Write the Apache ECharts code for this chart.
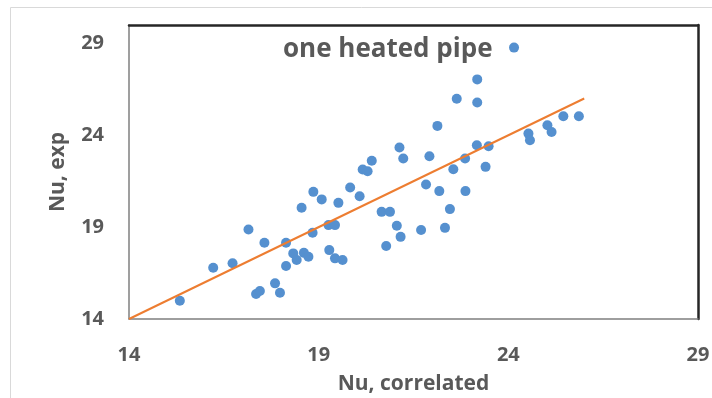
<!DOCTYPE html>
<html>
<head>
<meta charset="utf-8">
<script src="https://cdn.jsdelivr.net/npm/echarts@6/dist/echarts.min.js"></script>
<style>html,body{margin:0;padding:0;background:#fff}#c{width:712px;height:398px}</style>
</head>
<body>
<div id="c"></div>
<script>
const GRAY='#595959',BLUE='#5590cf',ORANGE='#ED7D31';
const F="'Open Sans',Arial,sans-serif";

// Nu correlated (x) vs Nu experimental (y)
const nuCorr=[15.34,16.22,16.73,17.15,17.57,17.35,17.45,17.85,17.98,18.14,18.14,18.33,18.42,18.61,18.73,18.55,18.86,19.08,18.84,19.26,19.43,19.28,19.43,19.63,
  22.64,22.13,21.13,21.23,21.92,20.40,20.16,20.29,19.83,20.08,19.52,22.55,22.86,21.83,22.18,22.87,22.46,20.66,20.88,21.06,21.16,21.70,22.33,20.78,
  24.15,23.18,23.18,23.17,23.48,23.40,24.53,24.57,25.03,25.14,25.45,25.86];
const nuExp=[14.99,16.79,17.03,18.87,18.15,15.36,15.52,15.94,15.43,18.15,16.88,17.57,17.21,17.60,17.39,20.05,20.92,20.51,18.69,19.11,19.11,17.75,17.30,17.21,
  25.99,24.51,23.33,22.73,22.86,22.61,22.14,22.04,21.16,20.68,20.32,22.15,22.73,21.32,20.96,20.96,19.98,19.83,19.83,19.07,18.47,18.84,18.96,17.97,
  28.77,27.04,25.78,23.46,23.40,22.28,24.09,23.73,24.54,24.18,25.03,25.03];
const fitX=[14,26];
const fitY=[14,26];

const chart=echarts.init(document.getElementById('c'));
chart.setOption({
  animation:false,
  title:{text:'one heated pipe',left:278,top:32,textStyle:{fontFamily:F,fontSize:26,fontWeight:'bold',color:GRAY}},
  graphic:[{type:'rect',shape:{x:10.5,y:7.5,width:760,height:420},style:{fill:'none',stroke:'#d9d9d9',lineWidth:1},silent:true}],
  grid:{left:129,right:14,top:25,bottom:79,outerBoundsMode:'none',containLabel:false},
  xAxis:[
    {type:'value',min:14,max:29,interval:5,name:'Nu, correlated',nameLocation:'middle',nameGap:55,
     nameTextStyle:{fontFamily:F,fontSize:21,fontWeight:'bold',color:GRAY},
     axisLine:{lineStyle:{color:'#7f7f7f',width:1.5}},axisTick:{show:false},splitLine:{show:false},
     axisLabel:{fontFamily:F,fontSize:20,fontWeight:'bold',color:GRAY,margin:26}},
    {type:'value',position:'top',min:14,max:29,axisLine:{lineStyle:{color:'#262626',width:2.5}},axisTick:{show:false},axisLabel:{show:false},splitLine:{show:false}}
  ],
  yAxis:[
    {type:'value',min:14,max:30,interval:5,name:'Nu, exp',nameLocation:'middle',nameGap:60,
     nameTextStyle:{fontFamily:F,fontSize:21,fontWeight:'bold',color:GRAY},
     axisLine:{lineStyle:{color:'#7f7f7f',width:1.5}},axisTick:{show:false},splitLine:{show:false},
     axisLabel:{fontFamily:F,fontSize:20,fontWeight:'bold',color:GRAY,margin:25,showMaxLabel:false}},
    {type:'value',position:'right',min:14,max:30,axisLine:{lineStyle:{color:'#262626',width:2.5}},axisTick:{show:false},axisLabel:{show:false},splitLine:{show:false}}
  ],
  series:[
    {type:'scatter',data:nuCorr.map((x,i)=>[x,nuExp[i]]),symbolSize:10,itemStyle:{color:BLUE,opacity:1},z:2},
    {type:'line',data:fitX.map((x,i)=>[x,fitY[i]]),showSymbol:false,lineStyle:{color:ORANGE,width:2},z:3}
  ]
});
</script>
</body>
</html>
